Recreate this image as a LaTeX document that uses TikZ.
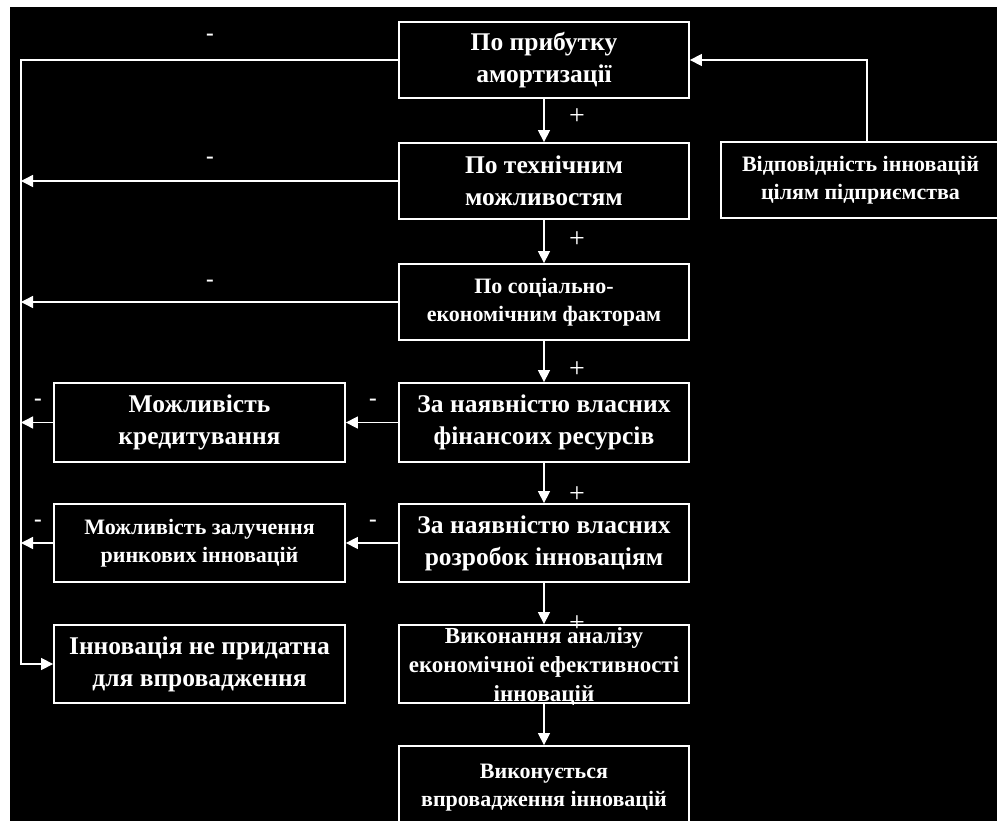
\documentclass[tikz,border=0pt]{standalone}
\usepackage{fontspec}
\setmainfont{Liberation Serif}
\usetikzlibrary{arrows.meta}
\tikzset{
  box/.style={draw=white, line width=1.8pt, fill=black, text=white, align=center, inner sep=0pt},
  bigtxt/.style={font=\bfseries\fontsize{25.5}{32}\selectfont},
  midtxt/.style={font=\bfseries\fontsize{23}{29}\selectfont},
  smalltxt/.style={font=\bfseries\fontsize{22}{28}\selectfont},
  conn/.style={draw=white, line width=1.4pt},
  arr/.style={conn, -{Triangle[length=12pt,width=12pt]}},
  minus/.style={text=white, font=\bfseries\fontsize{23}{23}\selectfont, inner sep=0pt},
  plus/.style={text=white, font=\fontsize{28}{28}\selectfont, inner sep=0pt}
}
\begin{document}
\begin{tikzpicture}[x=1pt,y=-1pt]
\useasboundingbox (0,0) rectangle (997,821);
\clip (0,0) rectangle (997,821);
\fill[white] (0,0) rectangle (997,821);
\fill[black] (10,7) rectangle (1000,830);
% main column
\node[box, bigtxt, minimum width=290pt, minimum height=76pt] (b1) at (544,60) {По прибутку\\амортизації};
\node[box, bigtxt, minimum width=290pt, minimum height=76pt] (b2) at (544,181) {По технічним\\можливостям};
\node[box, smalltxt, minimum width=290pt, minimum height=76pt] (b3) at (544,302) {По соціально-\\економічним факторам};
\node[box, bigtxt, minimum width=290pt, minimum height=79pt] (b4) at (544,422.5) {За наявністю власних\\фінансоих ресурсів};
\node[box, bigtxt, minimum width=290pt, minimum height=78pt] (b5) at (544,543) {За наявністю власних\\розробок інноваціям};
\node[box, minimum width=290pt, minimum height=78pt] (b6) at (544,664) {};
\node[text=white, midtxt, align=center, inner sep=0pt] (b6t) at (544,667) {Виконання аналізу\\економічної ефективності\\інновацій};
\node[box, smalltxt, minimum width=290pt, minimum height=84pt] (b7) at (544,788) {Виконується\\впровадження інновацій};
% left column
\node[box, bigtxt, minimum width=291pt, minimum height=79pt] (l1) at (199.5,422.5) {Можливість\\кредитування};
\node[box, smalltxt, minimum width=291pt, minimum height=78pt] (l2) at (199.5,543) {Можливість залучення\\ринкових інновацій};
\node[box, bigtxt, minimum width=291pt, minimum height=78pt] (l3) at (199.5,664) {Інновація не придатна\\для впровадження};
% right box
\node[box, smalltxt, minimum width=279pt, minimum height=76pt] (r) at (860.5,180) {Відповідність інновацій\\цілям підприємства};
% coordinates
\coordinate (tl) at (21,60);
\coordinate (bl) at (21,664);
\coordinate (rt) at (867,60);
% left feedback
\draw[arr] (b1.west) -- (tl) -- (bl) -- (l3.west);
\draw[arr] (b2.west) -- (b2.west -| tl);
\draw[arr] (b3.west) -- (b3.west -| tl);
\draw[arr] (b4.west) -- (l1.east);
\draw[arr] (l1.west) -- (l1.west -| tl);
\draw[arr] (b5.west) -- (l2.east);
\draw[arr] (l2.west) -- (l2.west -| tl);
% right
\draw[arr] (rt |- r.north) -- (rt) -- (b1.east);
% down
\draw[arr] (b1.south) -- (b2.north);
\draw[arr] (b2.south) -- (b3.north);
\draw[arr] (b3.south) -- (b4.north);
\draw[arr] (b4.south) -- (b5.north);
\draw[arr] (b5.south) -- (b6.north);
\draw[arr] (b6.south) -- (b7.north);
% labels
\node[minus] (m1) at (210,37) {-};
\node[minus] (m2) at (210,160) {-};
\node[minus] (m3) at (210,283) {-};
\node[minus] (m4) at (38,402) {-};
\node[minus] (m5) at (373,402) {-};
\node[minus] (m6) at (38,523) {-};
\node[minus] (m7) at (373,523) {-};
\node[plus] (p1) at (577,117) {+};
\node[plus] (p2) at (577,240) {+};
\node[plus] (p3) at (577,370) {+};
\node[plus] (p4) at (577,495) {+};
\node[plus] (p5) at (577,624) {+};
\end{tikzpicture}
\end{document}
